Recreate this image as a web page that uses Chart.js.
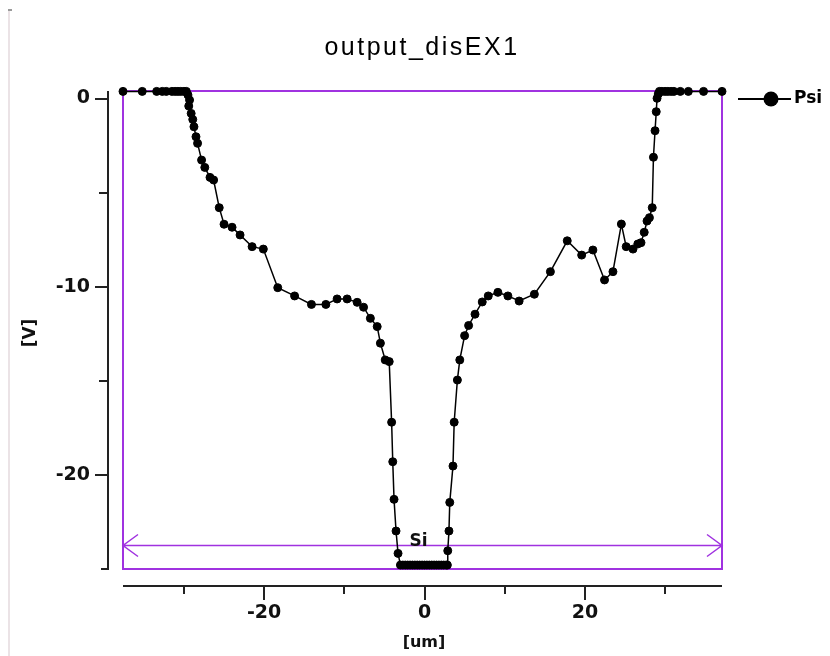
<!DOCTYPE html>
<html>
<head>
<meta charset="utf-8">
<title>output_disEX1</title>
<script src="https://cdn.jsdelivr.net/npm/chart.js@4.4.1/dist/chart.umd.min.js"></script>
<style>
  html, body { margin: 0; padding: 0; background: #fff; }
  canvas { display: block; }
</style>
</head>
<body>
<canvas id="grafica" width="830" height="656"></canvas>
<script>
// Psi a lo largo del corte [um] -> [V]
const posicionX = [
  -37.6, -35.2, -33.4, -32.7, -32.2, -31.5, -31.1, -30.75, -30.4, -30.0, -29.7,
  -29.5, -29.3, -29.4, -29.1, -28.9, -28.75, -28.5, -28.3, -27.8, -27.4, -26.75,
  -26.3, -25.6, -25.0, -24.0, -23.0, -21.5, -20.1, -18.3, -16.2, -14.1, -12.3,
  -10.9, -9.65, -8.4, -7.6, -6.75, -5.9, -5.5, -4.9, -4.4, -4.1, -3.96, -3.8,
  -3.55, -3.3,
  -3.0, -2.7, -2.4, -2.1, -1.8, -1.5, -1.2, -0.9, -0.6, -0.3, 0.0, 0.3, 0.6,
  0.9, 1.2, 1.5, 1.8, 2.1, 2.4, 2.7, 2.85,
  2.9, 3.05, 3.15, 3.55, 3.7, 4.1, 4.4, 5.0, 5.5, 6.3, 7.2, 7.95, 9.15, 10.4,
  11.8, 13.7, 15.7, 17.8, 19.6, 21.0, 22.45, 23.5, 24.55, 25.15, 26.0, 26.6,
  27.0, 27.4, 27.75, 28.05, 28.4, 28.55, 28.75, 28.9, 29.0, 29.15, 29.3, 29.6,
  30.0, 30.35, 30.75, 31.1, 31.9, 32.9, 34.8, 37.1
];
const psi = [
  0.38, 0.38, 0.38, 0.38, 0.38, 0.38, 0.38, 0.38, 0.38, 0.38, 0.38,
  0.19, -0.08, -0.40, -0.79, -1.11, -1.50, -2.03, -2.38, -3.27, -3.66, -4.19,
  -4.33, -5.80, -6.68, -6.84, -7.25, -7.87, -8.00, -10.05, -10.49, -10.94, -10.94,
  -10.65, -10.65, -10.83, -11.09, -11.68, -12.12, -13.0, -13.89, -13.98, -17.2, -19.3, -21.3,
  -22.98, -24.17,
  -24.79, -24.79, -24.79, -24.79, -24.79, -24.79, -24.79, -24.79, -24.79, -24.79, -24.79, -24.79, -24.79,
  -24.79, -24.79, -24.79, -24.79, -24.79, -24.79, -24.79, -24.79,
  -24.03, -22.98, -21.46, -19.53, -17.2, -14.96, -13.89, -12.6, -12.06, -11.46, -10.81, -10.49, -10.30, -10.49,
  -10.76, -10.4, -9.20, -7.56, -8.32, -8.05, -9.64, -9.20, -6.67, -7.87, -8.0, -7.73,
  -7.66, -7.11, -6.51, -6.33, -5.80, -3.12, -1.71, -0.70, 0.01, 0.24, 0.38, 0.38,
  0.38, 0.38, 0.38, 0.38, 0.38, 0.38, 0.38, 0.38
];

const ticksX = [-30, -20, -10, 0, 10, 20, 30];
const etiquetasX = [-20, 0, 20];
const ticksY = [0, -5, -10, -15, -20];
const etiquetasY = [0, -10, -20];

// region Si: extremos en x y altura de la flecha
const regionSi = [-37.6, 37.1];
const alturaSi = -23.7;

const morado = "#a032e0";
const negro = "#000";
const fuenteNum = "bold 19px 'DejaVu Sans'";

const puntos = posicionX.map((x, i) => ({ x: x, y: psi[i] }));

const decoracion = {
  id: "decoracion",
  beforeDatasetsDraw(chart) {
    const { ctx, chartArea: a, scales: { x, y } } = chart;
    ctx.save();
    // marco de la region
    ctx.strokeStyle = morado;
    ctx.lineWidth = 2;
    ctx.strokeRect(a.left, a.top, a.right - a.left, a.bottom - a.top);

    // flecha doble de la region Si
    const yr = Math.round(y.getPixelForValue(alturaSi)) + 0.5;
    const x0 = x.getPixelForValue(regionSi[0]);
    const x1 = x.getPixelForValue(regionSi[1]);
    ctx.lineWidth = 1.5;
    ctx.beginPath();
    ctx.moveTo(x0, yr); ctx.lineTo(x1, yr);
    ctx.moveTo(x0 + 15, yr - 11); ctx.lineTo(x0, yr); ctx.lineTo(x0 + 15, yr + 11);
    ctx.moveTo(x1 - 15, yr - 11); ctx.lineTo(x1, yr); ctx.lineTo(x1 - 15, yr + 11);
    ctx.stroke();

    ctx.fillStyle = "#111";
    ctx.font = "bold 17px 'DejaVu Sans'";
    ctx.textAlign = "center";
    ctx.textBaseline = "middle";
    ctx.fillText("Si", (x0 + x1) / 2 - 4, yr - 4);
    ctx.restore();
  },
  afterDraw(chart) {
    const { ctx, chartArea: a, scales: { x, y } } = chart;
    ctx.save();

    // linea gris del borde izquierdo
    ctx.fillStyle = "#ebe3e6";
    ctx.fillRect(8, 10, 2, 646);
    ctx.fillStyle = "#9a9a9a";
    ctx.fillRect(8, 9, 4, 2);

    ctx.strokeStyle = "#222";
    ctx.fillStyle = "#111";
    ctx.lineWidth = 2;

    // eje y
    const ejeY = 108;
    ctx.beginPath();
    ctx.moveTo(ejeY, a.top);
    ctx.lineTo(ejeY, a.bottom);
    ctx.lineTo(ejeY - 7, a.bottom);
    ticksY.forEach(v => {
      const py = Math.round(y.getPixelForValue(v));
      const largo = etiquetasY.includes(v) ? 13 : 9;
      ctx.moveTo(ejeY - largo, py);
      ctx.lineTo(ejeY, py);
    });
    ctx.stroke();
    ctx.font = fuenteNum;
    ctx.textAlign = "right";
    ctx.textBaseline = "middle";
    etiquetasY.forEach(v => {
      ctx.fillText(v === 0 ? "0" : "-" + Math.abs(v), 90, y.getPixelForValue(v));
    });

    // eje x
    const ejeX = 586;
    ctx.beginPath();
    ctx.moveTo(a.left, ejeX);
    ctx.lineTo(a.right, ejeX);
    ticksX.forEach(v => {
      const px = Math.round(x.getPixelForValue(v));
      const largo = etiquetasX.includes(v) ? 14 : 8;
      ctx.moveTo(px, ejeX);
      ctx.lineTo(px, ejeX + largo);
    });
    ctx.stroke();
    ctx.textAlign = "center";
    etiquetasX.forEach(v => {
      ctx.fillText(v < 0 ? "-" + Math.abs(v) : String(v), x.getPixelForValue(v), 613);
    });

    // titulos de ejes
    ctx.font = "bold 16px 'DejaVu Sans'";
    ctx.fillText("[um]", 424, 643);
    ctx.save();
    ctx.translate(31, 333);
    ctx.rotate(-Math.PI / 2);
    ctx.font = "bold 17px 'DejaVu Sans'";
    ctx.fillText("[V]", 0, 0);
    ctx.restore();

    // titulo
    ctx.fillStyle = "#000";
    ctx.font = "25px 'Liberation Sans'";
    ctx.letterSpacing = "2.5px";
    ctx.textBaseline = "alphabetic";
    ctx.fillText("output_disEX1", 422, 55);
    ctx.letterSpacing = "0px";

    // leyenda
    ctx.strokeStyle = negro;
    ctx.lineWidth = 2;
    ctx.beginPath();
    ctx.moveTo(738, 99);
    ctx.lineTo(791, 99);
    ctx.stroke();
    ctx.fillStyle = negro;
    ctx.beginPath();
    ctx.arc(771, 99, 7.5, 0, Math.PI * 2);
    ctx.fill();
    ctx.font = "bold 17px 'DejaVu Sans'";
    ctx.textAlign = "left";
    ctx.textBaseline = "middle";
    ctx.fillText("Psi", 794, 99);

    ctx.restore();
  }
};

new Chart(document.getElementById("grafica"), {
  type: "scatter",
  data: {
    datasets: [{
      label: "Psi",
      data: puntos,
      showLine: true,
      borderColor: negro,
      borderWidth: 1.5,
      pointRadius: 4,
      pointBorderWidth: 1,
      pointBackgroundColor: negro,
      pointBorderColor: negro,
      tension: 0,
      clip: false
    }]
  },
  options: {
    responsive: false,
    animation: false,
    events: [],
    layout: { padding: { left: 123, right: 108, top: 91, bottom: 87 } },
    plugins: {
      legend: { display: false },
      title: { display: false },
      tooltip: { enabled: false }
    },
    scales: {
      x: { type: "linear", min: -37.6, max: 37.1, display: false },
      y: { type: "linear", min: -25.0, max: 0.4, display: false }
    }
  },
  plugins: [decoracion]
});
</script>
</body>
</html>
